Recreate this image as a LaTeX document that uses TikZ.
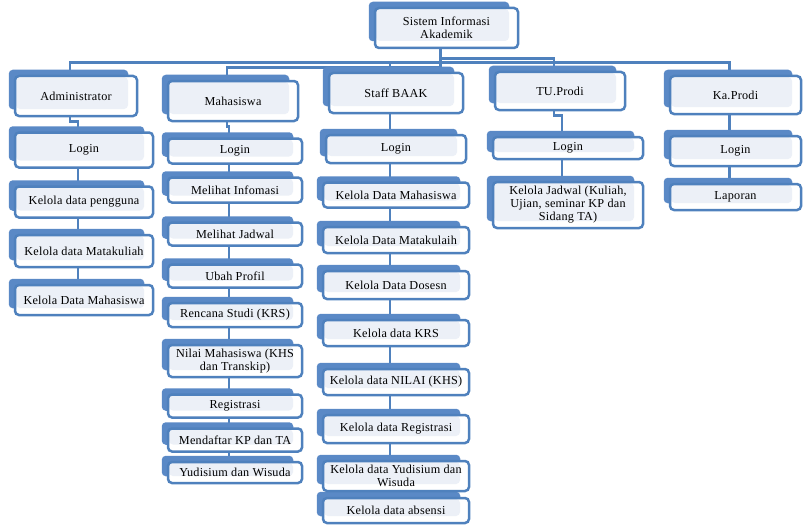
\documentclass[tikz,border=0pt]{standalone}
\usepackage{fontspec}
\setmainfont{Liberation Serif}
\newfontfamily\boxfont[LetterSpace=2]{Liberation Serif}
\usetikzlibrary{calc,backgrounds}

\definecolor{acc}{HTML}{4F81BD}
\definecolor{accback}{HTML}{5A89C6}
\definecolor{innerfill}{HTML}{ECF0F7}

\tikzset{
  box/.style={draw=acc, line width=2.5pt, fill=white, rounded corners=4pt,
    inner sep=1pt, align=center,
    font=\boxfont\fontsize{12.2}{13}\selectfont,
    path picture={\fill[innerfill]
      ([shift={(1,1)}]path picture bounding box.north west) rectangle
      ([shift={(-9,-7)}]path picture bounding box.south east);}},
  conn/.style={draw=acc, line width=2.8pt},
  backshape/.style={fill=accback, rounded corners=4pt},
  colA/.style={box, minimum width=138pt},
  colM/.style={box, minimum width=134pt},
  colS/.style={box, minimum width=146pt},
  colT/.style={box, minimum width=150pt},
  colK/.style={box, minimum width=131pt},
}

\begin{document}
\begin{tikzpicture}[x=1pt, y=-1pt]
\useasboundingbox (0,0) rectangle (803,527);

% root
\node[box, minimum width=143pt, minimum height=40pt] (sia) at (446.5,28) {Sistem Informasi\\Akademik};

% first level
\node[box, minimum width=122pt, minimum height=40pt] (admin) at (76,96) {Administrator};
\node[box, minimum width=130pt, minimum height=40pt] (mhs) at (233,101) {Mahasiswa};
\node[box, minimum width=134pt, minimum height=40pt] (staff) at (396,93) {Staff BAAK};
\node[box, minimum width=130pt, minimum height=38pt] (tu) at (560,91) {TU.Prodi};
\node[box, minimum width=131pt, minimum height=38pt] (ka) at (735.5,95) {Ka.Prodi};

% Administrator
\node[colA, minimum height=35pt] (a1) at (84,150) {Login};
\node[colA, minimum height=31pt] (a2) at (84,202) {Kelola data pengguna};
\node[colA, minimum height=32pt] (a3) at (84,251) {Kelola data Matakuliah};
\node[colA, minimum height=30pt] (a4) at (84,300) {Kelola Data Mahasiswa};

% Mahasiswa
\node[colM, minimum height=25pt] (m1) at (235,151) {Login};
\node[colM, minimum height=25pt] (m2) at (235,190) {Melihat Infomasi};
\node[colM, minimum height=23pt] (m3) at (235,234) {Melihat Jadwal};
\node[colM, minimum height=23pt] (m4) at (235,276) {Ubah Profil};
\node[colM, minimum height=24pt] (m5) at (235,315) {Rencana Studi (KRS)};
\node[colM, minimum height=32pt] (m6) at (235,361) {Nilai Mahasiswa (KHS\\dan Transkip)};
\node[colM, minimum height=23pt] (m7) at (235,406) {Registrasi};
\node[colM, minimum height=23pt] (m8) at (235,440) {Mendaftar KP dan TA};
\node[colM, minimum height=21pt] (m9) at (235,472.5) {Yudisium dan Wisuda};

% Staff BAAK
\node[box, minimum width=140pt, minimum height=28pt] (s1) at (396,149) {Login};
\node[colS, minimum height=25pt] (s2) at (396,195) {Kelola Data Mahasiswa};
\node[colS, minimum height=26pt] (s3) at (396,240) {Kelola Data Matakulaih};
\node[colS, minimum height=28pt] (s4) at (396,285) {Kelola Data Dosesn};
\node[colS, minimum height=26pt] (s5) at (396,333) {Kelola data KRS};
\node[colS, minimum height=26pt] (s6) at (396,382) {Kelola data NILAI (KHS)};
\node[colS, minimum height=28pt] (s7) at (396,429) {Kelola data Registrasi};
\node[colS, minimum height=30pt] (s8) at (396,476) {Kelola data Yudisium dan\\Wisuda};
\node[colS, minimum height=25pt] (s9) at (396,510.5) {Kelola data absensi};

% TU.Prodi
\node[colT, minimum height=22pt] (t1) at (568,148) {Login};
\node[colT, minimum height=46pt] (t2) at (568,205) {Kelola Jadwal (Kuliah,\\Ujian, seminar KP dan\\Sidang TA)};

% Ka.Prodi
\node[colK, minimum height=30pt] (k1) at (735.5,151) {Login};
\node[colK, minimum height=26pt] (k2) at (735.5,197) {Laporan};

\begin{scope}[on background layer]
  % connectors from the root to the first level
  \draw[conn] ([xshift=-6pt]sia.south) -- ++(0,13) -| ([xshift=-6pt]admin.north);
  \draw[conn] ([xshift=-6pt]sia.south) -- ++(0,13) -| ([xshift=-6pt]ka.north);
  \draw[conn] ([xshift=-6pt]sia.south) -- ++(0,13) -| ([xshift=-6pt]staff.north);
  \draw[conn] ([xshift=-6pt]sia.south) -- ++(0,18) -| ([xshift=-6pt]mhs.north);
  \draw[conn] ([xshift=-6pt]sia.south) -- ++(0,9) -| ([xshift=-6pt]tu.north);
  % connectors inside each column
  \foreach \p/\c in {admin/a1,a1/a2,a2/a3,a3/a4,
                     mhs/m1,m1/m2,m2/m3,m3/m4,m4/m5,m5/m6,m6/m7,m7/m8,m8/m9,
                     staff/s1,s1/s2,s2/s3,s3/s4,s4/s5,s5/s6,s6/s7,s7/s8,s8/s9,
                     tu/t1,t1/t2,ka/k1,k1/k2}
    \draw[conn] ([xshift=-6pt]\p.south) -- ++(0,4) -| ([xshift=-6pt]\c.north);
  % blue back plates behind every box
  \foreach \n in {sia,admin,mhs,staff,tu,ka,a1,a2,a3,a4,
                  m1,m2,m3,m4,m5,m6,m7,m8,m9,
                  s1,s2,s3,s4,s5,s6,s7,s8,s9,t1,t2,k1,k2}
    \fill[backshape] ($(\n.north west)+(-5,-5)$) rectangle ($(\n.south east)+(-10,-8)$);
\end{scope}
\end{tikzpicture}
\end{document}
